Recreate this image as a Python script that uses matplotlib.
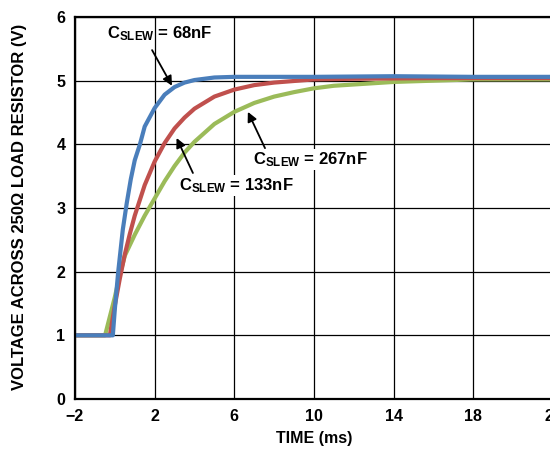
import numpy as np
import matplotlib
matplotlib.use('Agg')
import matplotlib.pyplot as plt

plt.rcParams['font.family'] = ['Liberation Sans', 'DejaVu Sans']
plt.rcParams['font.weight'] = 'bold'
plt.rcParams['mathtext.fontset'] = 'custom'
plt.rcParams['mathtext.bf'] = 'Liberation Sans:bold'
plt.rcParams['mathtext.rm'] = 'Liberation Sans:bold'
plt.rcParams['mathtext.it'] = 'Liberation Sans:bold'

# readings from the scope traces (time in ms, volts)
t_68 = [-2.0, -0.1, 0.0, 0.17, 0.4, 0.6, 0.8, 1.0, 1.26, 1.5, 2.0, 2.5, 3.0, 3.5, 4.0, 5.0, 6.0, 10.0, 14.0, 18.0, 22.0]
v_68 = [1.0, 1.0, 1.41, 2.0, 2.66, 3.08, 3.45, 3.75, 4.0, 4.28, 4.57, 4.78, 4.9, 4.97, 5.01, 5.05, 5.06, 5.06, 5.07, 5.06, 5.06]

t_133 = [-2.0, -0.25, 0.0, 0.25, 0.5, 0.75, 1.0, 1.5, 2.0, 2.5, 3.0, 3.5, 4.0, 5.0, 6.0, 7.0, 8.0, 10.0, 12.0, 16.0, 22.0]
v_133 = [1.0, 1.0, 1.47, 1.89, 2.27, 2.59, 2.88, 3.36, 3.73, 4.02, 4.25, 4.42, 4.56, 4.75, 4.86, 4.93, 4.97, 5.02, 5.03, 5.04, 5.04]

t_267 = [-2.0, -0.49, 0.0, 0.25, 0.5, 1.0, 1.5, 2.0, 2.5, 3.0, 3.5, 4.0, 5.0, 6.0, 7.0, 8.0, 9.0, 10.0, 11.0, 12.0, 14.0, 16.0, 18.0, 22.0]
v_267 = [1.0, 1.0, 1.6, 1.95, 2.25, 2.58, 2.88, 3.15, 3.42, 3.66, 3.87, 4.04, 4.32, 4.51, 4.65, 4.75, 4.82, 4.88, 4.92, 4.94, 4.98, 5.0, 5.02, 5.02]

blue = '#4a7ebb'
red = '#c0504d'
green = '#9bbb59'

fig = plt.figure(figsize=(5.5, 4.49), dpi=100)
ax = fig.add_axes([75 / 550, 1 - 399 / 449, 478 / 550, 382 / 449])

ax.plot(t_267, v_267, color=green, lw=3, solid_capstyle='butt')
ax.plot(t_133, v_133, color=red, lw=3, solid_capstyle='butt')
ax.plot(t_68, v_68, color=blue, lw=3, solid_capstyle='butt')

ax.set_xlim(-2, 22)
ax.set_ylim(0, 6)
ax.set_xticks([-2, 2, 6, 10, 14, 18, 22])
ax.set_yticks([0, 1, 2, 3, 4, 5, 6])
ax.tick_params(length=0, labelsize=11.5, pad=7)
for lab in ax.get_xticklabels() + ax.get_yticklabels():
    lab.set_fontweight('bold')
ax.grid(True, color='black', lw=0.9)
ax.set_axisbelow(True)
for s in ax.spines.values():
    s.set_linewidth(1.6)

ax.set_xlabel('TIME (ms)', fontsize=11.5, fontweight='bold', labelpad=5)
fig.text(20 / 550, 1 - 207 / 449, 'VOLTAGE ACROSS 250Ω LOAD RESISTOR (V)', rotation=90,
         ha='center', va='center', fontsize=12, fontweight='bold')

arrow = dict(arrowstyle='-|>', color='black', lw=1.3, mutation_scale=14, shrinkA=0, shrinkB=0)
ax.annotate('', xy=(2.87, 4.92), xytext=(1.87, 5.48), arrowprops=arrow)
ax.annotate('', xy=(3.1, 4.1), xytext=(3.92, 3.55), arrowprops=arrow)
ax.annotate('', xy=(6.68, 4.51), xytext=(7.54, 3.94), arrowprops=arrow)

ax.text(2.27, 5.74, r'C$_{\mathbf{SLEW}}$ = 68nF', ha='center', va='center', fontsize=12, fontweight='bold')
ax.text(6.1, 3.35, r'C$_{\mathbf{SLEW}}$ = 133nF', ha='center', va='center', fontsize=12, fontweight='bold',
        bbox=dict(facecolor='white', edgecolor='none', pad=1))
ax.text(9.8, 3.76, r'C$_{\mathbf{SLEW}}$ = 267nF', ha='center', va='center', fontsize=12, fontweight='bold',
        bbox=dict(facecolor='white', edgecolor='none', pad=1))

fig.savefig('out.png', dpi=100)
